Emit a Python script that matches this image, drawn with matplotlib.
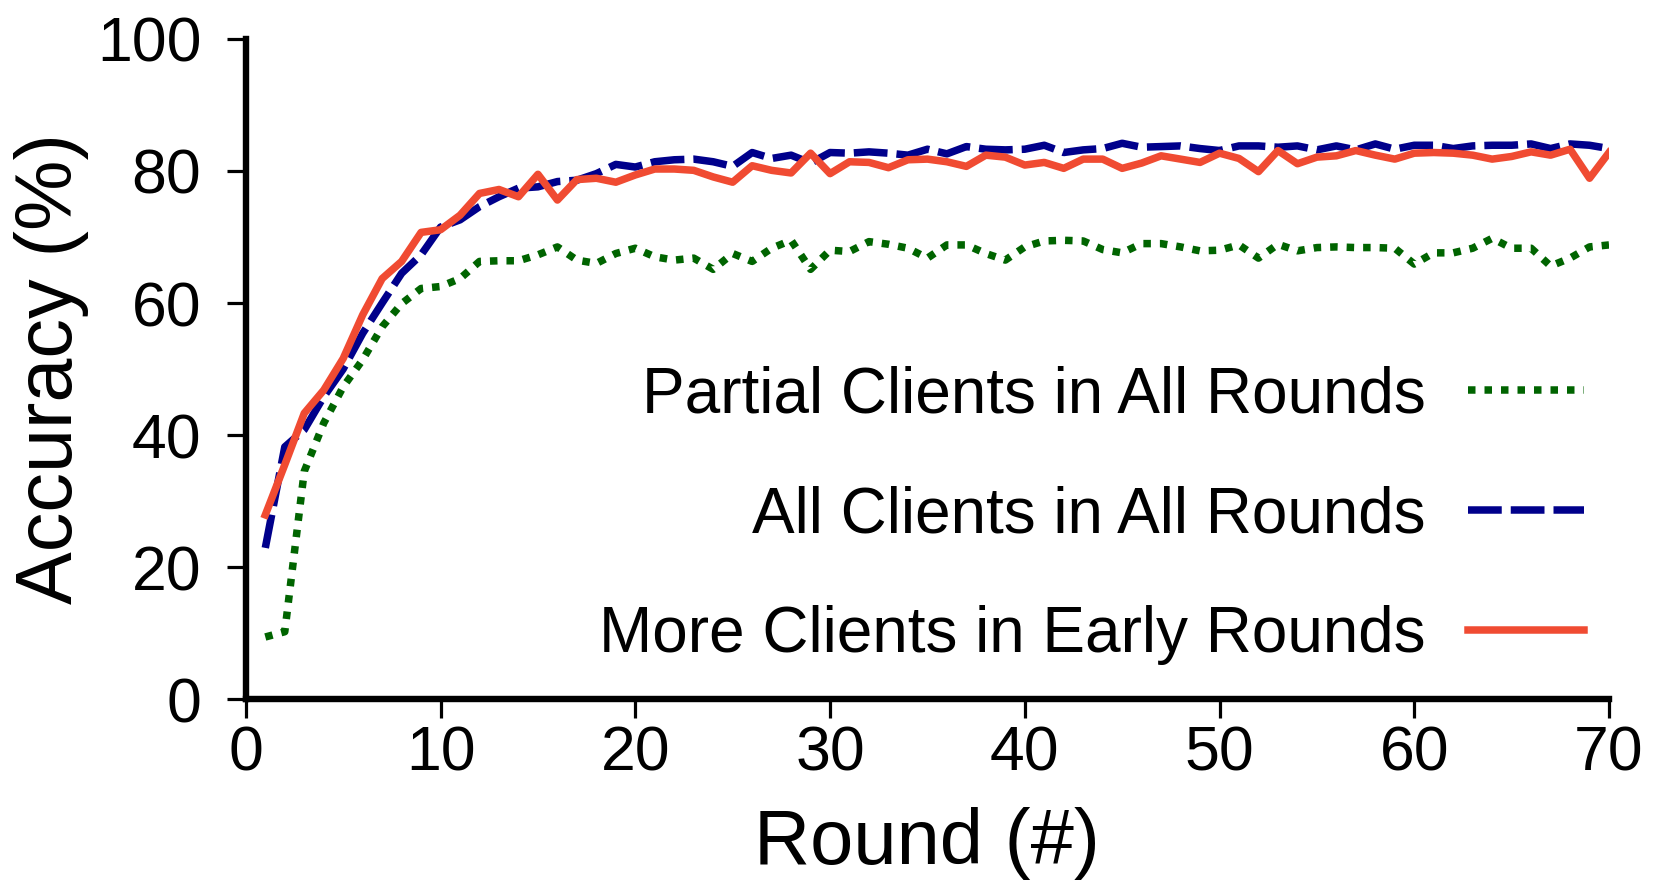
import matplotlib
matplotlib.use("Agg")
import matplotlib.pyplot as plt
import numpy as np

plt.rcParams['font.family'] = ['Liberation Sans', 'DejaVu Sans']

# Accuracy (%) per round
rounds = np.arange(1, 71)

partial_all = [9.4, 10.2, 34.5, 41.8, 47.3, 51.4, 56.4, 59.9, 62.2, 62.5,
               63.7, 66.3, 66.4, 66.4, 67.3, 68.5, 66.5, 66.0, 67.5, 68.3,
               67.0, 66.5, 66.8, 65.1, 67.5, 66.3, 68.3, 69.5, 65.1, 68.0,
               67.8, 69.3, 68.9, 68.3, 66.8, 68.8, 68.8, 67.5, 66.5, 68.5,
               69.4, 69.5, 69.4, 68.1, 67.6, 69.0, 69.0, 68.5, 67.9, 68.0,
               68.8, 66.8, 68.9, 67.9, 68.4, 68.5, 68.4, 68.4, 68.3, 65.9,
               67.6, 67.6, 68.3, 69.8, 68.3, 68.3, 65.6, 66.8, 68.5, 68.8]

all_all = [22.9, 38.2, 40.8, 45.8, 50.0, 55.4, 60.0, 64.5, 67.3, 71.5,
           72.6, 74.6, 76.1, 77.4, 77.6, 78.4, 78.6, 79.6, 81.0, 80.6,
           81.4, 81.7, 81.8, 81.4, 80.7, 82.8, 81.9, 82.4, 81.2, 82.8,
           82.7, 82.9, 82.7, 82.4, 83.3, 82.6, 83.7, 83.3, 83.2, 83.3,
           83.9, 82.8, 83.2, 83.4, 84.2, 83.6, 83.7, 83.8, 83.4, 83.1,
           83.8, 83.8, 83.6, 83.8, 83.2, 83.8, 83.2, 84.1, 83.3, 83.9,
           83.9, 83.4, 83.8, 83.9, 83.9, 84.1, 83.4, 84.1, 83.9, 83.4]

more_early = [27.9, 35.5, 43.3, 46.8, 51.6, 58.2, 63.7, 66.3, 70.7, 71.1,
              73.3, 76.6, 77.2, 76.1, 79.5, 75.6, 78.7, 78.9, 78.3, 79.4,
              80.3, 80.3, 80.1, 79.1, 78.3, 80.8, 80.1, 79.7, 82.7, 79.6,
              81.4, 81.3, 80.5, 81.7, 81.8, 81.4, 80.7, 82.4, 82.1, 80.9,
              81.3, 80.4, 81.8, 81.8, 80.4, 81.2, 82.3, 81.8, 81.3, 82.7,
              81.9, 79.9, 83.1, 81.1, 82.1, 82.3, 83.1, 82.4, 81.8, 82.7,
              82.8, 82.7, 82.4, 81.8, 82.2, 82.9, 82.4, 83.3, 78.9, 82.8]

labels = ['Partial Clients in All Rounds',
          'All Clients in All Rounds',
          'More Clients in Early Rounds']

fig = plt.figure(figsize=(16.61, 8.86), dpi=100)
ax = fig.add_axes([0.148, 0.211, 0.8207, 0.745])

lw = 5.4
ax.plot(rounds, partial_all, color='#006400', lw=lw, dashes=(1, 1.2),
        label=labels[0])
ax.plot(rounds, all_all, color='#00008b', lw=lw, dashes=(4.5, 1.2),
        label=labels[1])
ax.plot(rounds, more_early, color='#f04b32', lw=lw, label=labels[2])

ax.set_xlim(0, 70)
ax.set_ylim(0, 100)
ax.set_xticks(range(0, 71, 10))
ax.set_yticks(range(0, 101, 20))

for s in ['top', 'right']:
    ax.spines[s].set_visible(False)
for s in ['left', 'bottom']:
    ax.spines[s].set_linewidth(4.6)

ax.tick_params(axis='both', direction='out', length=14, width=2.3,
               labelsize=45)
ax.tick_params(axis='x', pad=4)
ax.tick_params(axis='y', pad=18)

ax.set_xlabel('Round (#)', fontsize=56, labelpad=17)
ax.set_ylabel('Accuracy (%)', fontsize=57, labelpad=6)

ax.legend(loc='lower right', bbox_to_anchor=(1.005, 0.003), frameon=False,
          markerfirst=False, fontsize=46, handlelength=1.82,
          handletextpad=0.66, labelspacing=0.94, borderpad=0)

fig.savefig('out.png', dpi=100)
